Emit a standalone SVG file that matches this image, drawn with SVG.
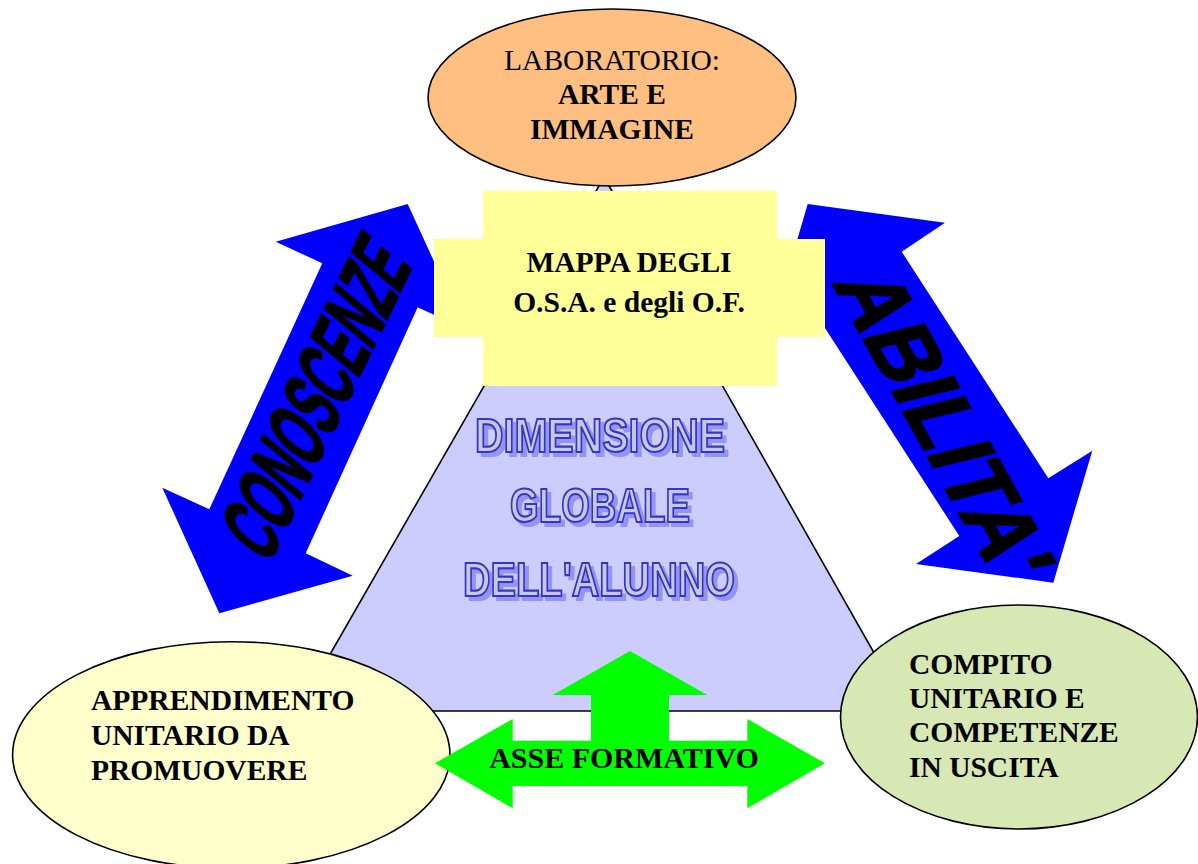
<svg xmlns="http://www.w3.org/2000/svg" width="1198" height="864" viewBox="0 0 1198 864">
<defs>
<filter id="shadow" x="-10%" y="-20%" width="130%" height="160%">
  <feFlood flood-color="#9494F4" result="c"/>
  <feComposite in="c" in2="SourceAlpha" operator="in" result="s"/>
  <feOffset in="s" dx="4" dy="4" result="o"/>
  <feMerge><feMergeNode in="o"/><feMergeNode in="SourceGraphic"/></feMerge>
</filter>
</defs>
<style>
.lbl{font-family:"Liberation Serif","Times New Roman",serif;font-size:29.5px;fill:#000}
.b{font-weight:bold}
.ol{stroke:#000;stroke-width:1.6}
.word{font-family:"Liberation Sans",Arial,sans-serif;font-weight:bold;font-size:88px;fill:#000;stroke:#000;stroke-width:2.5}
.dim{font-family:"Liberation Sans",Arial,sans-serif;font-weight:bold;font-size:49px;text-anchor:middle;fill:#C8C8DA;stroke:#3535CC;stroke-width:2.2}
.blue{fill:#0000FF}
.green{fill:#00FF00}
</style>
<rect width="1198" height="864" fill="#fff"/>

<g id="dimensione-globale">
  <polygon class="ol" points="604,177 907,711 297.5,711" fill="#CCCCFF"/>
</g>

<g id="laboratorio">
  <ellipse class="ol" cx="612" cy="97.5" rx="184" ry="88.5" fill="#FFBF80"/>
  <text class="lbl" x="612" y="70" text-anchor="middle">LABORATORIO:</text>
  <text class="lbl b" x="612" y="104" text-anchor="middle">ARTE E</text>
  <text class="lbl b" x="612" y="139" text-anchor="middle">IMMAGINE</text>
</g>

<g id="connectors">
  <g id="conoscenze">
    <polygon class="blue" points="407.7,204 464.9,328.9 417.7,307.3 305.7,553.3 352.7,575.7 219.3,613.3 162.3,487.7 209.3,509.3 322.3,263.3 275.7,241.7"/>
    <text class="word" transform="translate(268,566) rotate(-64.3) skewX(-14)" x="0" y="0" textLength="332" lengthAdjust="spacingAndGlyphs">CONOSCENZE</text>
  </g>
  <g id="abilita">
    <polygon class="blue" points="807.7,204 945,222.7 901.7,251.7 1048.3,478.3 1092.3,450.7 1053.3,582.7 916,564 959.3,536 812.7,309.1 768.8,336.9"/>
    <text class="word" transform="translate(831.7,281.7) rotate(61.2) skewX(-15)" x="0" y="0" textLength="342" lengthAdjust="spacingAndGlyphs">ABILITA'</text>
  </g>
</g>

<g id="mappa">
  <rect x="483" y="191" width="294" height="195" fill="#FFFF99"/>
  <rect x="434" y="239" width="391" height="98" fill="#FFFF99"/>
  <text class="lbl b" x="629" y="272" text-anchor="middle">MAPPA DEGLI</text>
  <text class="lbl b" x="629" y="312" text-anchor="middle">O.S.A. e degli O.F.</text>
</g>

<g id="dimensione-testo" class="dim" filter="url(#shadow)">
  <text x="600" y="451.7" textLength="250" lengthAdjust="spacingAndGlyphs">DIMENSIONE</text>
  <text x="600" y="521.7" textLength="180" lengthAdjust="spacingAndGlyphs">GLOBALE</text>
  <text x="599" y="596" textLength="272" lengthAdjust="spacingAndGlyphs">DELL'ALUNNO</text>
</g>

<g id="apprendimento">
  <ellipse class="ol" cx="231.3" cy="755" rx="218.7" ry="113.3" fill="#FFFFCC"/>
  <text class="lbl b" x="91" y="710">APPRENDIMENTO</text>
  <text class="lbl b" x="91" y="745">UNITARIO DA</text>
  <text class="lbl b" x="91" y="779.5">PROMUOVERE</text>
</g>

<g id="compito">
  <ellipse class="ol" cx="1019" cy="717" rx="178.5" ry="112" fill="#D8E8B4"/>
  <text class="lbl b" x="909" y="674">COMPITO</text>
  <text class="lbl b" x="909" y="707.5">UNITARIO E</text>
  <text class="lbl b" x="909" y="742">COMPETENZE</text>
  <text class="lbl b" x="909" y="776.5">IN USCITA</text>
</g>

<g id="asse-formativo">
  <polygon class="green" points="630,651 707.3,695 669,695 669,740.7 747.3,740.7 747.3,719 825,763.3 747.3,808.3 747.3,786 512.7,786 512.7,808.3 435,763.3 512.7,719 512.7,740.7 591,740.7 591,695 552.7,695"/>
  <text class="lbl b" x="624" y="768" text-anchor="middle" style="font-size:30px">ASSE FORMATIVO</text>
</g>
</svg>
